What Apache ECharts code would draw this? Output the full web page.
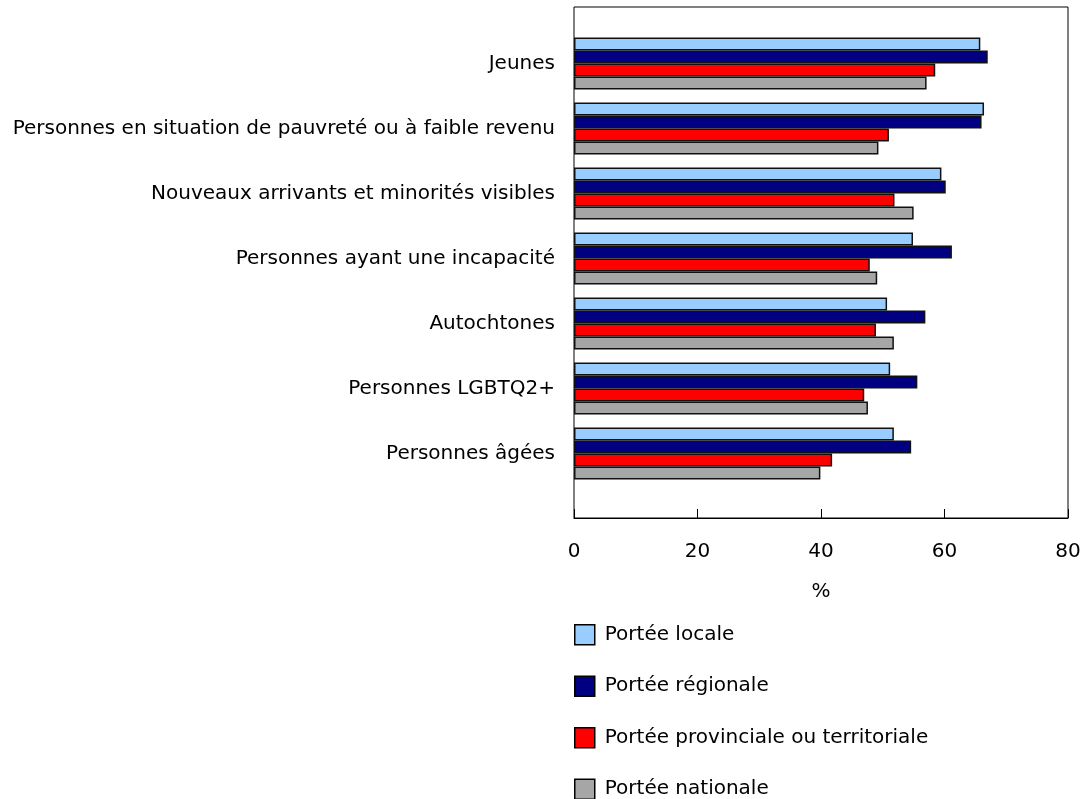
<!DOCTYPE html>
<html><head><meta charset="utf-8">
<script src="https://cdn.jsdelivr.net/npm/echarts@6/dist/echarts.min.js"></script>
<style>html,body{margin:0;padding:0;background:#fff}#c{width:1082px;height:799px}</style>
</head><body><div id="c"></div>
<script>
const categories = ["Jeunes","Personnes en situation de pauvreté ou à faible revenu","Nouveaux arrivants et minorités visibles","Personnes ayant une incapacité","Autochtones","Personnes LGBTQ2+","Personnes âgées"];
const seriesNames = ["Portée locale","Portée régionale","Portée provinciale ou territoriale","Portée nationale"];
const locale = [65.8,66.4,59.5,54.9,50.7,51.2,51.8];
const regionale = [67.0,66.0,60.2,61.2,56.9,55.6,54.6];
const provinciale = [58.5,51.0,51.9,47.9,48.9,47.0,41.8];
const nationale = [57.1,49.3,55.0,49.1,51.8,47.6,39.9];
const xTicks = [0,20,40,60,80];
const colors = ["#99CCFF","#000080","#FF0000","#A6A6A6"];
const values = [locale, regionale, provinciale, nationale];

const font = "'DejaVu Sans'";
const fs = 20;
const chart = echarts.init(document.getElementById('c'), null, {renderer:'canvas'});
chart.setOption({
  animation:false,
  textStyle:{fontFamily:font},
  grid:[
    {left:574, right:14, top:7, bottom:281, show:true, borderColor:'#000', borderWidth:1, backgroundColor:'transparent', containLabel:false, outerBoundsMode:'none'},
    {left:574, right:14, top:31, bottom:313, containLabel:false, outerBoundsMode:'none'}
  ],
  xAxis:[
    {gridIndex:0, type:'value', min:xTicks[0], max:xTicks[xTicks.length-1], interval:20,
     axisLine:{show:true, lineStyle:{color:'#000', width:1}},
     axisTick:{show:true, inside:true, length:9, lineStyle:{color:'#000'}},
     axisLabel:{color:'#000', fontSize:fs, fontFamily:font, margin:24},
     splitLine:{show:false},
     name:'%', nameLocation:'middle', nameGap:64, nameTextStyle:{color:'#000', fontSize:fs, fontFamily:font}},
    {gridIndex:1, type:'value', min:0, max:80, show:false}
  ],
  yAxis:[
    {gridIndex:0, type:'value', show:false},
    {gridIndex:1, type:'category', inverse:true, data:categories,
     axisLine:{show:false}, axisTick:{show:false},
     axisLabel:{color:'#000', fontSize:fs, fontFamily:font, margin:19, padding:[3,0,0,0]}}
  ],
  legend:{
    orient:'vertical', left:574, top:624, height:200, padding:0, itemWidth:20, itemHeight:20, itemGap:30,
    icon:'rect', itemStyle:{borderColor:'#000', borderWidth:1.5},
    textStyle:{color:'#000', fontSize:fs, fontFamily:font, padding:[0,0,0,5]},
    data:seriesNames
  },
  series: seriesNames.map((n,i)=>({
    name:n, type:'bar', xAxisIndex:1, yAxisIndex:1, data:values[i],
    barGap:'0%', barCategoryGap:'20%',
    itemStyle:{color:colors[i], borderColor:'#111', borderWidth:1.5}
  }))
});
</script></body></html>
